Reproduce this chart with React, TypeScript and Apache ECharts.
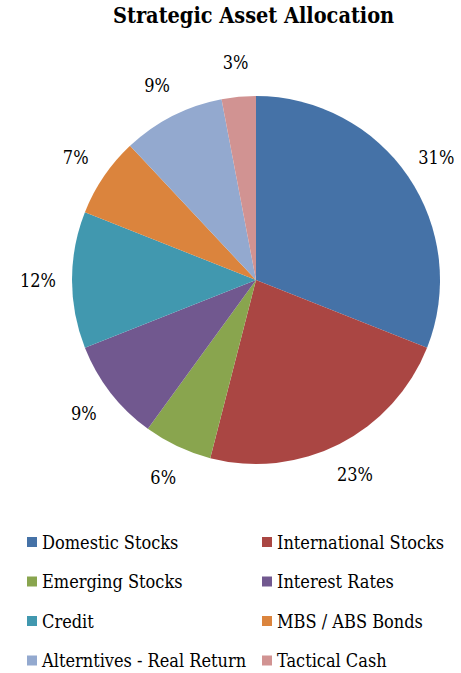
import React, { useEffect, useRef } from "react";
import * as echarts from "echarts";

const categories = [
  "Domestic Stocks",
  "International Stocks",
  "Emerging Stocks",
  "Interest Rates",
  "Credit",
  "MBS / ABS Bonds",
  "Alterntives - Real Return",
  "Tactical Cash",
];
const values = [31, 23, 6, 9, 12, 7, 9, 3];
const colors = ["#4572A7", "#AA4643", "#89A54E", "#71588F", "#4198AF", "#DB843D", "#93A9CF", "#D19392"];
const leftLegend = ["Domestic Stocks", "Emerging Stocks", "Credit", "Alterntives - Real Return"];
const rightLegend = ["International Stocks", "Interest Rates", "MBS / ABS Bonds", "Tactical Cash"];

const FONT = "DejaVu Serif Condensed, DejaVu Serif";

export default function App() {
  const ref = useRef<HTMLDivElement>(null);
  useEffect(() => {
    document.body.style.margin = "0";
    const chart = echarts.init(ref.current!, null, { renderer: "svg" });
    const data = categories.map((name, i) => ({ name, value: values[i], itemStyle: { color: colors[i] } }));
    const legendCommon = {
      orient: "vertical" as const,
      top: 533,
      height: 300,
      padding: 0,
      itemWidth: 10,
      itemHeight: 10,
      itemGap: 21.5,
      icon: "rect",
      selectedMode: false,
      textStyle: { fontFamily: FONT, fontSize: 18, color: "#000", lineHeight: 18 },
    };
    chart.setOption({
      animation: false,
      textStyle: { fontFamily: FONT },
      title: {
        text: "Strategic Asset Allocation",
        left: 113,
        top: 4,
        padding: 0,
        textStyle: { fontFamily: FONT, fontSize: 21.5, fontWeight: "bold", color: "#000" },
      },
      legend: [
        { ...legendCommon, left: 27, data: leftLegend },
        { ...legendCommon, left: 262, data: rightLegend },
      ],
      series: [
        {
          type: "pie",
          center: [256, 280],
          radius: [0, 184],
          startAngle: 90,
          clockwise: true,
          silent: true,
          label: { show: false },
          labelLine: { show: false },
          data,
        },
        {
          type: "pie",
          center: [256, 280],
          radius: [184, 246],
          startAngle: 90,
          clockwise: true,
          silent: true,
          itemStyle: { color: "transparent" },
          label: {
            show: true,
            position: "inside",
            formatter: "{c}%",
            fontFamily: FONT,
            fontSize: 18,
            color: "#000",
          },
          labelLine: { show: false },
          data: categories.map((name, i) => ({ name, value: values[i], itemStyle: { color: "transparent" } })),
        },
      ],
    });
    return () => chart.dispose();
  }, []);
  return <div ref={ref} style={{ width: 461, height: 673 }} />;
}
